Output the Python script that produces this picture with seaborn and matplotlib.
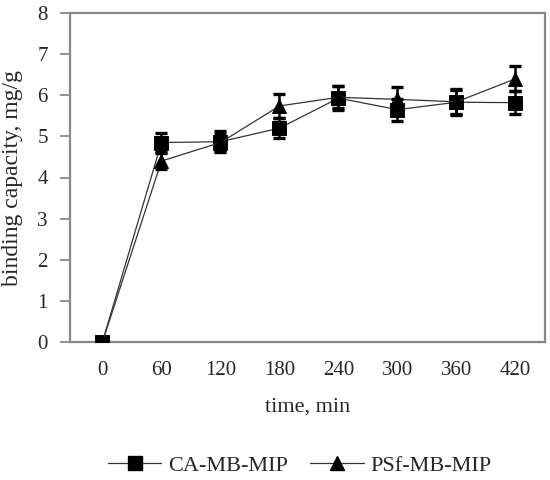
import matplotlib
matplotlib.use("Agg")
import matplotlib.pyplot as plt
import seaborn as sns
import pandas as pd
from matplotlib.lines import Line2D

times = ["0", "60", "120", "180", "240", "300", "360", "420"]
ca_values = [0.0, 4.85, 4.87, 5.2, 5.93, 5.65, 5.83, 5.82]
ca_err = [0.0, 0.24, 0.25, 0.25, 0.29, 0.27, 0.3, 0.28]
psf_values = [0.0, 4.4, 4.85, 5.74, 5.95, 5.9, 5.84, 6.4]
psf_err = [0.0, 0.2, 0.2, 0.29, 0.27, 0.3, 0.3, 0.3]
series_names = ["CA-MB-MIP", "PSf-MB-MIP"]

df = pd.DataFrame({
    "time": times * 2,
    "value": ca_values + psf_values,
    "series": [series_names[0]] * len(times) + [series_names[1]] * len(times),
})

sns.set_style("white")
plt.rcParams["font.family"] = ["Liberation Serif", "DejaVu Serif"]

fig = plt.figure(figsize=(5.5, 4.8), dpi=100)
ax = fig.add_axes([70 / 550, 1 - 342 / 480, 475 / 550, 329 / 480])

sns.pointplot(data=df, x="time", y="value", hue="series", order=times,
              hue_order=series_names, palette=["#333333", "#333333"],
              markers=["s", "^"], linestyles=["-", "-"], errorbar=None,
              linewidth=0.9, markersize=10, legend=False, ax=ax, zorder=3)
for ln in ax.lines:
    ln.set_markerfacecolor("black")
    ln.set_markeredgecolor("black")

xpos = list(range(len(times)))
ax.errorbar(xpos, ca_values, yerr=ca_err, fmt="none", ecolor="black",
            elinewidth=1.8, capsize=4.5, capthick=2.4, zorder=4)
ax.errorbar(xpos, psf_values, yerr=psf_err, fmt="none", ecolor="black",
            elinewidth=1.8, capsize=4.5, capthick=2.4, zorder=4)

ax.set_xlim(-0.55, 7.5)
ax.set_ylim(0, 8)
ax.set_yticks(range(0, 9))
for s in ax.spines.values():
    s.set_color("#888888")
    s.set_linewidth(1.6)
ax.tick_params(axis="y", which="major", length=7, width=1.3, color="#888888",
               direction="out", left=True, labelsize=15, pad=9)
ax.tick_params(axis="x", length=0, labelsize=15, pad=14)
ax.set_xlabel("time, min", fontsize=16, labelpad=12)
ax.set_ylabel("binding capacity, mg/g", fontsize=17, labelpad=10)

handles = [
    Line2D([], [], color="#333333", lw=0.9, marker="s", markersize=10,
           markerfacecolor="black", markeredgecolor="black"),
    Line2D([], [], color="#333333", lw=0.9, marker="^", markersize=10,
           markerfacecolor="black", markeredgecolor="black"),
]
fig.legend(handles, series_names, loc="center", bbox_to_anchor=(0.545, 0.03),
           ncol=2, frameon=False, fontsize=16, handlelength=2.4,
           numpoints=1, columnspacing=1.0, handletextpad=0.3)

fig.savefig("out.png", dpi=100)
